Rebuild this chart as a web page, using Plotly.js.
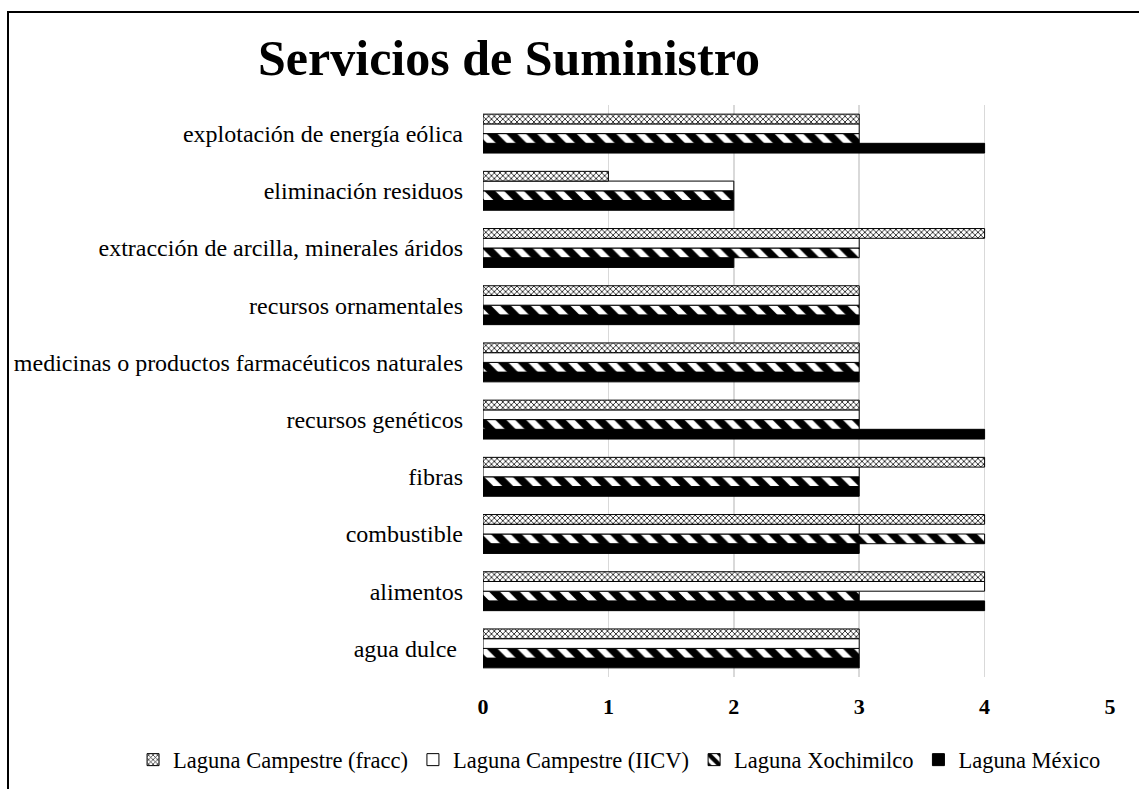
<!DOCTYPE html>
<html>
<head>
<meta charset="utf-8">
<script src="https://cdn.plot.ly/plotly-3.0.1.min.js"></script>
<style>
html,body{margin:0;padding:0;background:#fff;overflow:hidden;}
#chart{width:1139px;height:789px;}
#frame{position:absolute;left:7px;top:11px;width:1200px;height:900px;border:2px solid #000;pointer-events:none;}
</style>
</head>
<body>
<div id="chart"></div>
<div id="frame"></div>
<script>
const categories = [
  "agua dulce ",
  "alimentos",
  "combustible",
  "fibras",
  "recursos genéticos",
  "medicinas o productos farmacéuticos naturales",
  "recursos ornamentales",
  "extracción de arcilla, minerales áridos",
  "eliminación residuos",
  "explotación de energía eólica"
];
const lagunaMexico     = [3, 4, 3, 3, 4, 3, 3, 2, 2, 4];
const lagunaXochimilco = [3, 3, 4, 3, 3, 3, 3, 3, 2, 3];
const lagunaIICV       = [3, 4, 3, 3, 3, 3, 3, 3, 2, 3];
const lagunaFracc      = [3, 4, 4, 4, 3, 3, 3, 4, 1, 3];
const xTicks = [0, 1, 2, 3, 4, 5];

const serif = "Liberation Serif, Times New Roman, serif";
const line = {color: "#000", width: 1};

const traces = [
  {name: "Laguna México", x: lagunaMexico, y: categories, type: "bar", orientation: "h",
   marker: {color: "#000", line: line}},
  {name: "Laguna Xochimilco", x: lagunaXochimilco, y: categories, type: "bar", orientation: "h",
   marker: {color: "#fff", line: line,
            pattern: {shape: "\\", size: 14, solidity: 0.55, fgcolor: "#000", bgcolor: "#fff", fillmode: "replace"}}},
  {name: "Laguna Campestre (IICV)", x: lagunaIICV, y: categories, type: "bar", orientation: "h",
   marker: {color: "#fff", line: line}},
  {name: "Laguna Campestre (fracc)", x: lagunaFracc, y: categories, type: "bar", orientation: "h",
   marker: {color: "#fff", line: line,
            pattern: {shape: "x", size: 4, solidity: 0.35, fgcolor: "#000", bgcolor: "#fff", fillmode: "replace"}}}
];

const L = 482.5, R = 1110.5, T = 105, B = 677;
const layout = {
  width: 1139, height: 789,
  paper_bgcolor: "#fff", plot_bgcolor: "#fff",
  margin: {l: L, r: 1139 - R, t: T, b: 789 - B, autoexpand: false},
  barmode: "group", bargap: 0.32, bargroupgap: 0,
  title: {text: "<b>Servicios de Suministro</b>", font: {family: serif, size: 50, color: "#000"},
          x: 509 / 1139, xanchor: "center", xref: "container", y: 1 - 57 / 789, yanchor: "middle", yref: "container"},
  xaxis: {range: [0, 5], tickvals: xTicks, ticktext: xTicks.map(v => "<b>" + v + "</b>"),
          showgrid: true, gridcolor: "#d9d9d9", gridwidth: 1.5, zeroline: false, showline: false,
          ticks: "", ticklabelstandoff: 14, tickfont: {family: serif, size: 22, color: "#000"}, fixedrange: true},
  yaxis: {type: "category", categoryorder: "array", categoryarray: categories,
          showgrid: false, zeroline: false, showline: false, ticks: "",
          ticklabelstandoff: 19, tickfont: {family: serif, size: 24, color: "#000"}, fixedrange: true},
  legend: {orientation: "h", traceorder: "reversed", xref: "paper", yref: "paper",
           x: (132 - L) / (R - L), xanchor: "left", y: (B - 760) / (B - T), yanchor: "middle",
           font: {family: serif, size: 22.5, color: "#000"}, itemwidth: 30, tracegroupgap: 0},
  showlegend: true
};

Plotly.newPlot("chart", traces, layout, {displayModeBar: false, staticPlot: true});
</script>
</body>
</html>
